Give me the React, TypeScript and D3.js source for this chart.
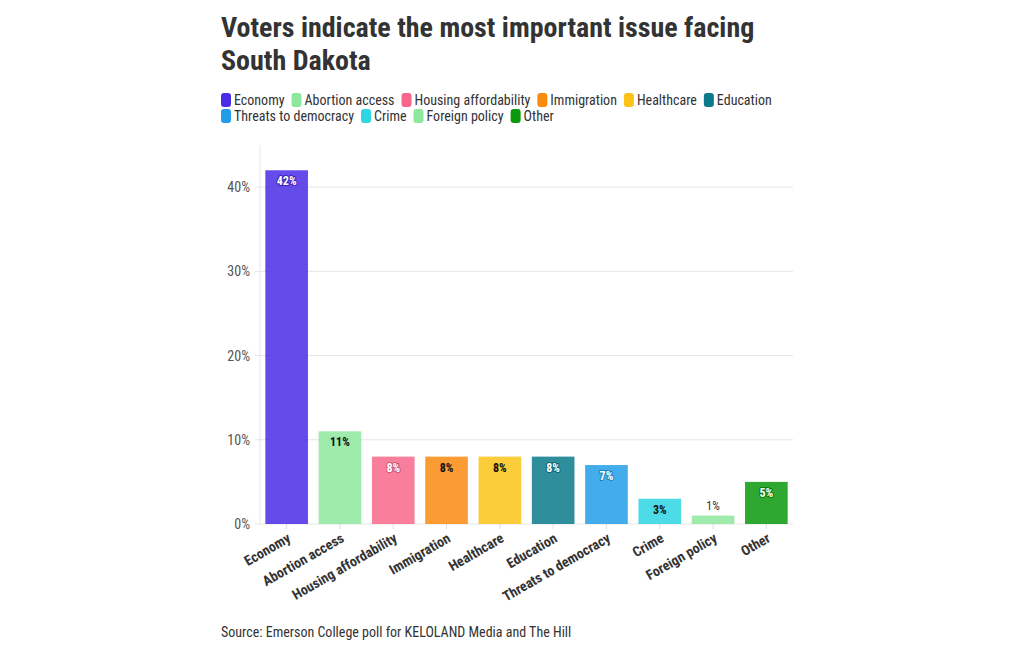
import React, { useEffect, useRef } from "react";
import * as d3 from "d3";

const categories = [
  "Economy",
  "Abortion access",
  "Housing affordability",
  "Immigration",
  "Healthcare",
  "Education",
  "Threats to democracy",
  "Crime",
  "Foreign policy",
  "Other",
];
const values = [42, 11, 8, 8, 8, 8, 7, 3, 1, 5];
const colors = [
  "#4a2de6",
  "#8de89d",
  "#f8678b",
  "#f98b0f",
  "#fcc418",
  "#0b7a8a",
  "#229de8",
  "#2ed6e3",
  "#8de89d",
  "#0a990d",
];
const labelDark = [false, true, false, true, true, false, false, true, true, false];
const yTicks = [0, 10, 20, 30, 40];
const title = ["Voters indicate the most important issue facing", "South Dakota"];
const source = "Source: Emerson College poll for KELOLAND Media and The Hill";

const FONT = "'Roboto Condensed', 'Liberation Sans Narrow', 'Arial Narrow', Roboto, sans-serif";

export default function App() {
  const ref = useRef<SVGSVGElement>(null);

  useEffect(() => {
    const svg = d3.select(ref.current);
    svg.selectAll("*").remove();
    svg.style("font-family", FONT);

    const left = 260, right = 793, top = 145, bottom = 524;
    const x = d3.scaleBand<string>().domain(categories).range([left, right])
      .paddingInner(0.2).paddingOuter(0.1);
    const y = d3.scaleLinear().domain([0, 45]).range([bottom, top]);

    // title
    title.forEach((t, i) => {
      svg.append("text").attr("x", 221).attr("y", 37 + i * 33).attr("font-size", 28)
        .attr("font-weight", 700).attr("fill", "#333").text(t);
    });

    // legend
    let lx = 221, ly = 100;
    const rowStart = 221, maxX = 790;
    categories.forEach((c, i) => {
      const g = svg.append("g");
      const tx = g.append("text").attr("font-size", 14).attr("fill", "#333").text(c);
      const w = (tx.node() as SVGTextElement).getComputedTextLength();
      if (lx + 13 + w > maxX) { lx = rowStart; ly += 16; }
      g.append("rect").attr("x", lx).attr("y", ly - 7).attr("width", 10).attr("height", 14)
        .attr("rx", 3).attr("fill", colors[i]);
      tx.attr("x", lx + 13).attr("y", ly + 5);
      lx += 13 + w + 7;
    });

    // grid
    svg.append("g").selectAll("line").data(yTicks.filter(d => d > 0)).join("line")
      .attr("x1", 255).attr("x2", right).attr("y1", d => y(d)).attr("y2", d => y(d))
      .attr("stroke", "#e6e6e6").attr("stroke-width", 1);
    svg.append("line").attr("x1", left).attr("x2", left).attr("y1", top).attr("y2", bottom)
      .attr("stroke", "#e6e6e6");
    svg.append("line").attr("x1", 255).attr("x2", right).attr("y1", bottom).attr("y2", bottom)
      .attr("stroke", "#e6e6e6");

    svg.append("g").selectAll("text").data(yTicks).join("text")
      .attr("x", 250).attr("y", d => y(d) + 5).attr("text-anchor", "end")
      .attr("font-size", 14).attr("fill", "#555").text(d => d + "%");

    // x ticks
    svg.append("g").selectAll("line").data(categories).join("line")
      .attr("x1", d => x(d)! + x.bandwidth() / 2).attr("x2", d => x(d)! + x.bandwidth() / 2)
      .attr("y1", bottom).attr("y2", bottom + 5).attr("stroke", "#ddd");

    // bars
    svg.append("g").selectAll("rect").data(values).join("rect")
      .attr("x", (d, i) => x(categories[i])!).attr("width", x.bandwidth())
      .attr("y", d => y(d)).attr("height", d => bottom - y(d))
      .attr("fill", (d, i) => colors[i]).attr("fill-opacity", 0.85);

    // labels
    values.forEach((v, i) => {
      const cx = x(categories[i])! + x.bandwidth() / 2;
      const inside = bottom - y(v) > 18;
      const t = svg.append("text").attr("x", cx).attr("text-anchor", "middle")
        .attr("font-size", 12).text(v + "%");
      if (inside) {
        t.attr("y", y(v) + 15).attr("font-weight", 700)
          .attr("fill", labelDark[i] ? "#111" : "#fff")
          .attr("stroke", labelDark[i] ? "none" : d3.color(colors[i])!.darker(0.6).toString())
          .attr("stroke-width", 2).attr("paint-order", "stroke").attr("stroke-linejoin", "round");
      } else {
        t.attr("y", y(v) - 6).attr("fill", "#333");
      }
    });

    // x labels
    categories.forEach((c) => {
      const cx = x(c)! + x.bandwidth() / 2;
      svg.append("text").attr("transform", `translate(${cx + 5},${bottom + 17}) rotate(-30)`)
        .attr("text-anchor", "end").attr("font-size", 14).attr("font-weight", 700)
        .attr("fill", "#333").text(c);
    });

    svg.append("text").attr("x", 221).attr("y", 637).attr("font-size", 14)
      .attr("fill", "#333").text(source);
  }, []);

  return (
    <svg
      ref={ref}
      width={1020}
      height={650}
      style={{ display: "block", position: "absolute", left: 0, top: 0 }}
    />
  );
}
